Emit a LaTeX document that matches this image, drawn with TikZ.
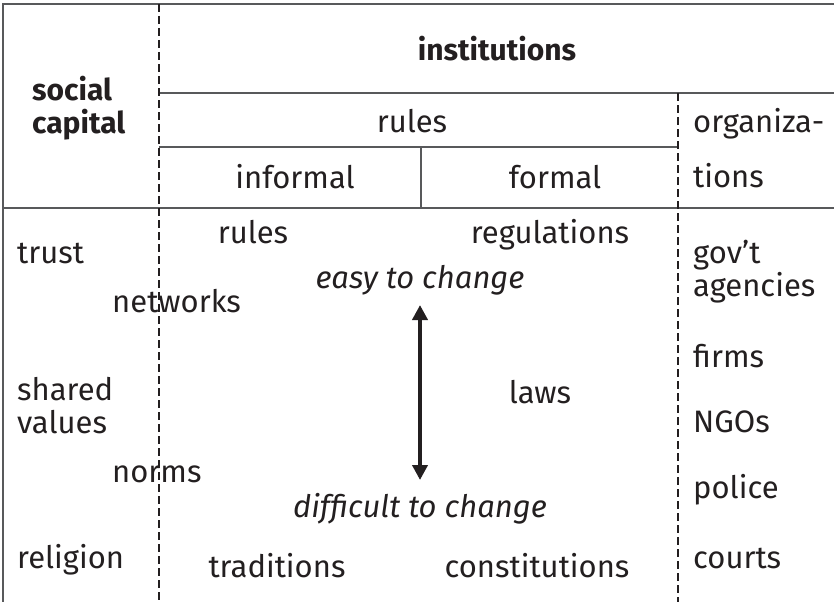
\documentclass[tikz,border=0pt]{standalone}
\usepackage{fontspec}
\setmainfont{Fira Sans}
\usetikzlibrary{arrows.meta}
\definecolor{ink}{HTML}{231F20}
\definecolor{rulegray}{HTML}{58595B}
\begin{document}
\begin{tikzpicture}[
        x=1pt, y=-1pt,
        rule/.style={draw=rulegray, line width=1.8pt},
        split/.style={draw=ink, line width=1.6pt, dash pattern=on 8pt off 4pt},
        head/.style={font=\fontsize{30}{36}\selectfont\bfseries, text=ink, inner sep=0pt},
        item/.style={font=\fontsize{31}{36}\selectfont, text=ink, inner sep=0pt, align=left},
        note/.style={font=\fontsize{31}{36}\selectfont\itshape, text=ink, inner sep=0pt},
        arrow/.style={{Triangle[width=15pt,length=15pt]}-{Triangle[width=15pt,length=15pt]}, draw=ink, line width=4pt}
    ]
        \useasboundingbox (0,0) rectangle (834,602);

        % table rules
        \draw[rule] (834,4) -- (3,4) -- (3,602);
        \draw[rule] (159,93) -- (834,93);
        \draw[rule] (159,147) -- (678,147);
        \draw[rule] (421,147) -- (421,208);
        \draw[rule] (3,208) -- (834,208);
        \draw[split] (159,4) -- (159,602);
        \draw[split] (678,93) -- (678,602);

        % header
        \node[head, anchor=base] (inst) at (497,60) {institutions};
        \node[head, anchor=base west] (soc) at (32,100) {social};
        \node[head, anchor=base west] (cap) at (32,133) {capital};
        \node[item, anchor=base] (rulesh) at (412,132) {rules};
        \node[item, anchor=base] (inf) at (295,188) {informal};
        \node[item, anchor=base] (form) at (555,188) {formal};
        \node[item, anchor=base west] (org) at (693,132) {organiza-};
        \node[item, anchor=base west] (orgb) at (693,187) {tions};

        % social capital column
        \node[item, anchor=base west] (trust) at (17,263) {trust};
        \node[item, anchor=base west] (net) at (112,312) {networks};
        \node[item, anchor=base west] (shared) at (17,400) {shared};
        \node[item, anchor=base west] (values) at (17,433) {values};
        \node[item, anchor=base west] (norms) at (112,482) {norms};
        \node[item, anchor=base west] (relig) at (17,568) {religion};

        % rules column
        \node[item, anchor=base] (rulesb) at (253,243) {rules};
        \node[item, anchor=base] (regs) at (550,243) {regulations};
        \node[note, anchor=base] (easy) at (420,288) {easy to change};
        \node[item, anchor=base] (laws) at (540,403) {laws};
        \node[note, anchor=base] (hard) at (420,517) {difficult to change};
        \node[item, anchor=base] (trad) at (277,577) {traditions};
        \node[item, anchor=base] (const) at (537,577) {constitutions};

        % organizations column
        \node[item, anchor=base west] (gov) at (693,263) {gov'{}t};
        \node[item, anchor=base west] (agen) at (693,296) {agencies};
        \node[item, anchor=base west] (firms) at (693,367) {firms};
        \node[item, anchor=base west] (ngo) at (693,432) {NGOs};
        \node[item, anchor=base west] (police) at (693,498) {police};
        \node[item, anchor=base west] (courts) at (693,568) {courts};

        \coordinate (up) at (420,305);
        \coordinate (down) at (420,480);
        \draw[arrow] (up) -- (down);
    \end{tikzpicture}
\end{document}
